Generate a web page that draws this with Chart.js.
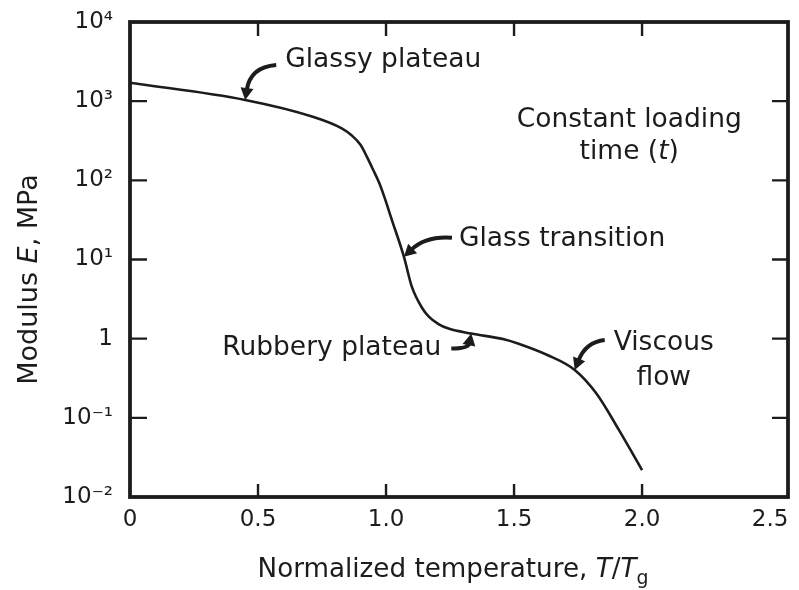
<!DOCTYPE html>
<html>
<head>
<meta charset="utf-8">
<title>Modulus vs normalized temperature</title>
<script src="https://cdn.jsdelivr.net/npm/chart.js@4.4.1/dist/chart.umd.min.js"></script>
<style>
  html, body { margin: 0; padding: 0; background: #ffffff; }
  #wrap { width: 799px; height: 590px; }
</style>
</head>
<body>
<div id="wrap"><canvas id="chart" width="799" height="590"></canvas></div>
<script>
// Normalized temperature T/Tg along the curve
const temps = [0, 0.45, 0.717, 0.827, 0.864, 0.901, 0.925, 0.950, 0.974, 0.993,
               1.023, 1.070, 1.101, 1.141, 1.167, 1.205, 1.244, 1.333, 1.464, 1.515,
               1.630, 1.737, 1.821, 1.910, 2.0];
// Modulus E in MPa at each temperature
const modulus = [1710, 1035, 631, 454, 374, 279, 199, 135, 91.8, 62.2,
                 31.5, 10.8, 4.50, 2.44, 1.90, 1.53, 1.34, 1.16, 0.976, 0.869,
                 0.622, 0.402, 0.204, 0.070, 0.0219];

// Axis ticks
const xTicks = [0, 0.5, 1.0, 1.5, 2.0, 2.5];
const xTickLabels = ['0', '0.5', '1.0', '1.5', '2.0', '2.5'];
const yTicks = [0.01, 0.1, 1, 10, 100, 1000, 10000];
const yTickLabels = ['10\u207B\u00B2', '10\u207B\u00B9', '1', '10\u00B9', '10\u00B2', '10\u00B3', '10\u2074'];

// Region labels, each pointing at a point of the curve (index into the arrays above)
const regionLabels = ['Glassy plateau', 'Glass transition', 'Rubbery plateau', ['Viscous', 'flow']];
const regionPoints = [1, 11, 17, 21];

const FONT = "'DejaVu Sans', 'Liberation Sans', sans-serif";
const INK = '#1c1c1c';

// Arrow and text placement relative to the pointed curve point (pixels)
const calloutLayout = [
  { tail: [31, -35], ctrl: [5, -33], text: [40, -40], align: 'left' },
  { tail: [48, -19], ctrl: [22, -21], text: [55, -18], align: 'left' },
  { tail: [-20, 15], ctrl: [-3, 15], text: [-30, 15], align: 'right' },
  { tail: [30, -30], ctrl: [11, -28], text: [89, -27], align: 'center', lineGap: 35 }
];

function drawRich(ctx, parts, x, y, size, align) {
  const fontFor = p => (p.italic ? 'italic ' : '') + (p.sub ? size * 0.72 : size).toFixed(1) + 'px ' + FONT;
  let total = 0;
  parts.forEach(p => { ctx.font = fontFor(p); p.w = ctx.measureText(p.t).width; total += p.w; });
  let cx = align === 'center' ? x - total / 2 : (align === 'right' ? x - total : x);
  ctx.textAlign = 'left';
  parts.forEach(p => {
    ctx.font = fontFor(p);
    ctx.fillText(p.t, cx, p.sub ? y + size * 0.28 : y);
    cx += p.w;
  });
}

function drawArrow(ctx, tip, tail, ctrl) {
  ctx.save();
  ctx.strokeStyle = INK;
  ctx.fillStyle = INK;
  ctx.lineWidth = 4;
  ctx.lineCap = 'butt';
  const dx = tip[0] - ctrl[0], dy = tip[1] - ctrl[1];
  const len = Math.hypot(dx, dy);
  const ux = dx / len, uy = dy / len;
  const headLen = 12, headHalf = 6.5;
  const base = [tip[0] - ux * headLen, tip[1] - uy * headLen];
  ctx.beginPath();
  ctx.moveTo(tail[0], tail[1]);
  ctx.quadraticCurveTo(ctrl[0], ctrl[1], base[0] + ux * 2, base[1] + uy * 2);
  ctx.stroke();
  ctx.beginPath();
  ctx.moveTo(tip[0], tip[1]);
  ctx.lineTo(base[0] - uy * headHalf, base[1] + ux * headHalf);
  ctx.lineTo(base[0] + uy * headHalf, base[1] - ux * headHalf);
  ctx.closePath();
  ctx.fill();
  ctx.restore();
}

const framePlugin = {
  id: 'frameAndNotes',
  afterDraw(chart) {
    const { ctx, chartArea: a, scales } = chart;
    const xs = scales.x, ys = scales.y;
    ctx.save();
    // inward tick marks on all four sides
    ctx.strokeStyle = INK;
    ctx.lineWidth = 2.4;
    ctx.beginPath();
    xTicks.forEach(v => {
      if (v <= 0 || v >= 2.5) return;
      const px = xs.getPixelForValue(v);
      ctx.moveTo(px, a.bottom); ctx.lineTo(px, a.bottom - 13);
      ctx.moveTo(px, a.top); ctx.lineTo(px, a.top + 14);
    });
    yTicks.forEach(v => {
      if (v <= 0.01 || v >= 10000) return;
      const py = ys.getPixelForValue(v);
      ctx.moveTo(a.left, py); ctx.lineTo(a.left + 17, py);
      ctx.moveTo(a.right, py); ctx.lineTo(a.right - 16, py);
    });
    ctx.stroke();
    // heavy plot frame
    ctx.lineWidth = 3.8;
    ctx.strokeRect(a.left, a.top, a.right - a.left, a.bottom - a.top);

    // region callouts
    ctx.fillStyle = INK;
    ctx.textBaseline = 'middle';
    regionPoints.forEach((idx, i) => {
      const L = calloutLayout[i];
      const tip = [xs.getPixelForValue(temps[idx]), ys.getPixelForValue(modulus[idx])];
      const tail = [tip[0] + L.tail[0], tip[1] + L.tail[1]];
      const ctrl = [tip[0] + L.ctrl[0], tip[1] + L.ctrl[1]];
      drawArrow(ctx, tip, tail, ctrl);
      const lines = Array.isArray(regionLabels[i]) ? regionLabels[i] : [regionLabels[i]];
      ctx.font = '26.5px ' + FONT;
      ctx.textAlign = L.align;
      lines.forEach((s, k) => {
        ctx.fillText(s, tip[0] + L.text[0], tip[1] + L.text[1] + k * (L.lineGap || 0));
      });
    });

    // loading-time note
    const nx = xs.getPixelForValue(1.95);
    ctx.font = '26.5px ' + FONT;
    ctx.textAlign = 'center';
    ctx.fillText('Constant loading', nx, ys.getPixelForValue(578));
    drawRich(ctx, [{ t: 'time (' }, { t: 't', italic: true }, { t: ')' }], nx, ys.getPixelForValue(228), 26.5, 'center');

    // axis titles
    ctx.textBaseline = 'alphabetic';
    drawRich(ctx, [{ t: 'Normalized temperature, ' }, { t: 'T', italic: true }, { t: '/' }, { t: 'T', italic: true }, { t: 'g', sub: true }],
             (a.left + a.right) / 2 - 6, 577, 26.2, 'center');
    ctx.save();
    ctx.translate(37, (a.top + a.bottom) / 2 + 20);
    ctx.rotate(-Math.PI / 2);
    drawRich(ctx, [{ t: 'Modulus ' }, { t: 'E', italic: true }, { t: ', MPa' }], 0, 0, 27, 'center');
    ctx.restore();
    ctx.restore();
  }
};

new Chart(document.getElementById('chart'), {
  type: 'line',
  data: {
    datasets: [{
      data: temps.map((t, i) => ({ x: t, y: modulus[i] })),
      borderColor: INK,
      borderWidth: 2.6,
      pointRadius: 0,
      fill: false,
      cubicInterpolationMode: 'monotone'
    }]
  },
  options: {
    responsive: false,
    animation: false,
    devicePixelRatio: 1,
    layout: { padding: { top: 22, right: 11, left: 0, bottom: 0 } },
    plugins: { legend: { display: false }, tooltip: { enabled: false } },
    scales: {
      x: {
        type: 'linear', min: 0, max: 2.57,
        afterBuildTicks: s => { s.ticks = xTicks.map(v => ({ value: v })); },
        afterFit: s => { s.height = 93; s.paddingLeft = 0; s.paddingRight = 0; },
        ticks: {
          callback: (v) => xTickLabels[xTicks.indexOf(v)],
          font: { family: FONT, size: 23 }, color: INK, padding: 9,
          maxRotation: 0, autoSkip: false
        },
        grid: { display: false, drawTicks: false },
        border: { display: false }
      },
      y: {
        type: 'logarithmic', min: 0.01, max: 10000,
        afterBuildTicks: s => { s.ticks = yTicks.map(v => ({ value: v })); },
        afterFit: s => { s.width = 130; s.paddingTop = 0; s.paddingBottom = 0; },
        ticks: {
          callback: (v) => yTickLabels[yTicks.indexOf(v)],
          font: { family: FONT, size: 23 }, color: INK, padding: 17,
          autoSkip: false
        },
        grid: { display: false, drawTicks: false },
        border: { display: false }
      }
    }
  },
  plugins: [framePlugin]
});
</script>
</body>
</html>
